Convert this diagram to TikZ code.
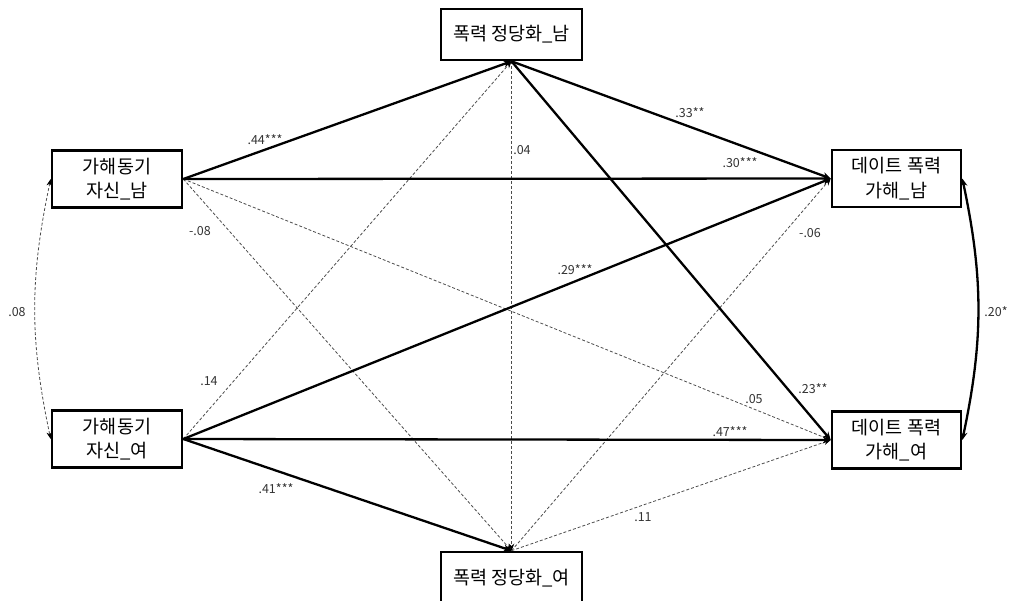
\documentclass[tikz,border=0pt]{standalone}
\usepackage{fontspec}
\setmainfont{Noto Sans CJK KR}
\usetikzlibrary{arrows.meta}
\begin{document}
\begin{tikzpicture}[x=1pt,y=-1pt,
  box/.style={draw, line width=2.6pt, minimum width=130pt, minimum height=57pt,
    align=center, inner sep=0pt, font=\fontsize{18.5}{24.5}\selectfont},
  sig/.style={line width=2.3pt, -{Stealth[length=8pt,width=7pt]}},
  ntip/.tip={Stealth[length=7pt,width=5.5pt,color=black]},
  ns/.style={line width=0.8pt, draw=black!70, dash pattern=on 3pt off 2pt, -ntip},
  lab/.style={font=\fontsize{12.5}{14}\selectfont, text=black!80, inner sep=1pt}]
\useasboundingbox (0,0) rectangle (1012,600);

% variables
\node[box] (L1) at (117,179) {가해동기\\자신\_남};
\node[box] (L2) at (117,439) {가해동기\\자신\_여};
\node[box, minimum width=129pt] (R1) at (896.5,178.5) {데이트 폭력\\가해\_남};
\node[box, minimum width=129pt] (R2) at (896.5,440) {데이트 폭력\\가해\_여};
\node[box, minimum width=141pt, minimum height=51pt] (T) at (511.5,34.5) {폭력 정당화\_남};
\node[box, minimum width=141pt, minimum height=52pt] (B) at (511.5,578) {폭력 정당화\_여};

% non-significant paths
\draw[ns] (L1.east) -- (B.north);
\draw[ns] (L1.east) -- (R2.west);
\draw[ns] (L2.east) -- (T.south);
\draw[ns] (T.south) -- (B.north);
\draw[ns] (B.north) -- (R1.west);
\draw[ns] (B.north) -- (R2.west);

% significant paths
\draw[sig] (L1.east) -- (T.south);
\draw[sig] (L1.east) -- (R1.west);
\draw[sig] (L2.east) -- (R1.west);
\draw[sig] (L2.east) -- (R2.west);
\draw[sig] (L2.east) -- (B.north);
\draw[sig] (T.south) -- (R1.west);
\draw[sig] (T.south) -- (R2.west);

% covariances
\draw[ns, ntip-ntip] (L1.west) to[bend right=12] (L2.west);
\draw[line width=2.3pt, {Stealth[length=8pt,width=7pt]}-{Stealth[length=8pt,width=7pt]}]
  (R1.east) to[bend left=12] (R2.east);

% coefficients
\node[lab] (c1) at (265,140) {.44***};
\node[lab] (c2) at (522,150) {.04};
\node[lab] (c3) at (690,113) {.33**};
\node[lab] (c4) at (740,163) {.30***};
\node[lab] (c5) at (200,231) {-.08};
\node[lab] (c6) at (810,233) {-.06};
\node[lab] (c7) at (575,270) {.29***};
\node[lab] (c8) at (17,312) {.08};
\node[lab] (c9) at (996,312) {.20*};
\node[lab] (c10) at (209,381) {.14};
\node[lab] (c11) at (754,399) {.05};
\node[lab] (c12) at (813,389) {.23**};
\node[lab] (c13) at (730,432) {.47***};
\node[lab] (c14) at (276,489) {.41***};
\node[lab] (c15) at (643,517) {.11};
\end{tikzpicture}
\end{document}
